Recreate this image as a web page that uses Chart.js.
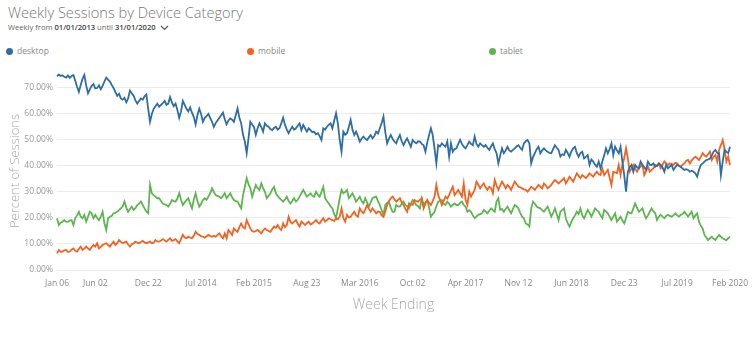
<!DOCTYPE html>
<html>
<head>
<meta charset="utf-8">
<script src="https://cdn.jsdelivr.net/npm/chart.js@4/dist/chart.umd.min.js"></script>
<style>
  html, body { margin: 0; padding: 0; background: #fff; }
  body { width: 756px; height: 339px; position: relative; overflow: hidden; font-family: "Open Sans", "DejaVu Sans", sans-serif; }
  #title { position: absolute; left: 8px; top: 2px; font-size: 14.6px; font-weight: 300; color: #777; white-space: nowrap; }
  #sub { position: absolute; left: 8px; top: 22px; font-size: 7.6px; color: #666; white-space: nowrap; }
  #sub b { font-weight: 600; color: #444; }
  #sub svg { vertical-align: middle; margin-left: 4px; }
  .leg { position: absolute; top: 45px; font-size: 8.5px; color: #888; white-space: nowrap; }
  .leg i { display: inline-block; width: 7px; height: 7px; border-radius: 50%; margin-right: 4px; vertical-align: -0.5px; }
  #wrap { position: absolute; left: 0; top: 60px; width: 756px; height: 260px; }
</style>
</head>
<body>
<div id="title">Weekly Sessions by Device Category</div>
<div id="sub">Weekly from <b>01/01/2013</b> until <b>31/01/2020</b><svg width="9" height="6" viewBox="0 0 9 6"><path d="M1 1 L4.5 4.5 L8 1" fill="none" stroke="#555" stroke-width="1.1"/></svg></div>
<div class="leg" style="left:6px"><i style="background:#2f6ea5"></i>desktop</div>
<div class="leg" style="left:247px"><i style="background:#f26321"></i>mobile</div>
<div class="leg" style="left:489px"><i style="background:#5fb552"></i>tablet</div>
<div id="wrap"><canvas id="c" width="756" height="260"></canvas></div>
<script>
// Week-ending dates: first week ends Sun 06 Jan 2013, last week ends Sun 02 Feb 2020 (370 weeks)
const weekCount = 370;
const weeks = [];
for (let i = 0; i < weekCount; i++) {
  const d = new Date(Date.UTC(2013, 0, 6 + 7 * i));
  weeks.push(d.toISOString().slice(0, 10));
}

const tickIndices = [0, 21, 50, 79, 108, 137, 166, 195, 224, 253, 282, 311, 340, 369];
const tickLabels = ["Jan 06", "Jun 02", "Dec 22", "Jul 2014", "Feb 2015", "Aug 23", "Mar 2016", "Oct 02", "Apr 2017", "Nov 12", "Jun 2018", "Dec 23", "Jul 2019", "Feb 2020"];

const yTicks = [0, 10, 20, 30, 40, 50, 60, 70];

const desktop = [
  74.5, 75.2, 74.6, 74.9, 74.3, 74.0, 74.8, 73.9, 74.6, 75.0,
  72.8, 70.5, 68.5, 71.2, 73.5, 75.0, 71.0, 68.0, 69.5, 70.8,
  71.5, 69.8, 70.0, 71.0, 69.5, 70.8, 72.5, 74.0, 73.2, 72.5,
  71.2, 70.0, 68.5, 67.0, 67.8, 66.0, 65.5, 66.2, 64.5, 66.0,
  69.0, 68.0, 67.0, 65.2, 64.0, 65.0, 66.0, 65.5, 66.8, 67.5,
  62.0, 57.0, 60.0, 62.0, 63.0, 64.0, 62.8, 63.5, 64.2, 65.0,
  63.5, 64.0, 66.5, 64.5, 63.0, 64.0, 61.5, 58.5, 61.0, 65.0,
  63.5, 62.0, 61.0, 62.5, 60.5, 58.8, 56.0, 59.5, 62.0, 60.0,
  57.0, 58.5, 59.2, 60.0, 58.5, 57.0, 55.0, 56.5, 57.5, 58.5,
  59.5, 60.5, 58.0, 56.0, 57.5, 58.3, 57.8, 57.0, 59.5, 62.2,
  58.5, 56.4, 52.0, 49.4, 44.9, 50.6, 57.0, 56.0, 55.0, 52.0,
  54.5, 56.4, 55.0, 53.2, 56.4, 55.5, 55.1, 54.2, 53.8, 54.6,
  55.1, 54.0, 54.5, 56.5, 58.6, 55.8, 54.0, 52.6, 54.0, 55.1,
  54.0, 54.5, 55.5, 56.4, 53.8, 55.8, 54.5, 53.2, 54.5, 53.8,
  53.0, 53.2, 52.2, 52.6, 51.5, 50.0, 54.5, 54.0, 55.1, 55.8,
  56.4, 54.5, 57.5, 60.3, 56.4, 50.0, 45.5, 53.2, 52.0, 52.6,
  55.0, 57.7, 54.0, 51.9, 53.2, 51.5, 49.4, 50.5, 51.3, 50.5,
  50.0, 51.0, 51.9, 50.6, 51.5, 53.2, 52.5, 54.5, 56.5, 59.0,
  53.0, 48.7, 50.5, 51.9, 50.5, 49.4, 48.7, 50.5, 51.9, 49.5,
  48.0, 49.5, 50.6, 49.0, 47.4, 50.0, 49.2, 48.7, 49.5, 49.4,
  48.5, 48.0, 45.5, 49.0, 51.9, 54.5, 51.9, 46.8, 41.0, 48.0,
  47.5, 48.7, 48.0, 47.4, 49.4, 43.6, 48.7, 45.5, 46.5, 46.8,
  48.5, 50.0, 48.5, 47.4, 46.8, 48.0, 49.4, 48.5, 48.0, 51.3,
  48.5, 47.4, 48.7, 48.0, 47.4, 48.0, 47.0, 46.2, 47.5, 48.7,
  46.5, 44.9, 41.0, 44.0, 46.8, 44.9, 46.0, 47.4, 46.0, 45.5,
  46.2, 46.8, 47.5, 48.0, 47.0, 46.2, 48.7, 49.5, 50.0, 48.7,
  41.0, 43.5, 44.9, 46.5, 47.4, 44.9, 46.0, 46.8, 46.0, 45.5,
  45.0, 44.9, 46.5, 48.0, 47.0, 46.2, 43.6, 44.5, 44.2, 46.2,
  45.0, 43.6, 45.5, 46.8, 47.4, 45.0, 43.6, 45.0, 45.5, 42.9,
  43.5, 44.2, 40.4, 42.5, 41.7, 40.5, 39.7, 41.7, 39.1, 41.7,
  44.0, 46.8, 44.9, 46.5, 48.7, 44.2, 47.4, 46.0, 44.9, 47.4,
  41.7, 36.5, 30.1, 37.8, 39.5, 40.4, 37.8, 40.4, 39.5, 39.1,
  41.7, 40.4, 39.5, 38.5, 41.7, 40.5, 40.4, 41.0, 39.7, 40.2,
  41.0, 40.4, 39.5, 37.8, 40.4, 39.1, 39.8, 40.4, 38.5, 39.5,
  40.4, 40.0, 39.7, 39.0, 38.5, 38.8, 38.5, 37.8, 38.2, 37.8,
  37.2, 35.9, 38.5, 40.4, 41.0, 41.7, 42.3, 42.5, 42.9, 44.0,
  45.5, 46.2, 45.0, 44.9, 36.5, 41.7, 46.2, 45.5, 44.9, 47.4
];

const mobile = [
  6.4, 7.7, 7.0, 7.1, 7.6, 7.7, 6.9, 7.1, 7.8, 8.3,
  7.4, 7.1, 8.2, 9.0, 7.7, 8.2, 9.0, 8.3, 7.7, 8.8,
  9.6, 9.0, 10.3, 8.3, 8.9, 9.6, 10.0, 10.3, 9.6, 9.0,
  10.0, 10.9, 9.6, 10.2, 11.5, 10.8, 10.3, 10.6, 10.9, 9.8,
  9.0, 9.8, 10.3, 10.9, 10.5, 10.3, 10.8, 11.2, 10.6, 10.3,
  10.6, 10.9, 10.3, 10.5, 11.5, 11.0, 10.9, 11.3, 11.9, 11.4,
  10.9, 11.6, 12.2, 11.2, 11.5, 11.9, 11.0, 10.3, 12.0, 13.5,
  12.5, 12.2, 12.8, 12.4, 12.2, 13.2, 14.7, 13.8, 13.5, 13.0,
  12.8, 12.4, 13.0, 13.5, 13.0, 12.8, 13.2, 12.8, 13.5, 14.1,
  13.0, 12.2, 14.1, 12.2, 15.4, 14.5, 13.5, 16.0, 15.2, 14.7,
  16.5, 17.9, 16.5, 16.0, 19.2, 17.5, 16.0, 15.0, 14.7, 15.0,
  15.4, 14.8, 14.1, 15.2, 16.0, 15.4, 15.0, 14.7, 15.8, 16.7,
  16.2, 17.3, 16.0, 15.4, 17.9, 16.5, 17.3, 20.5, 18.5, 17.9,
  18.6, 19.2, 17.8, 16.7, 18.6, 18.0, 17.3, 18.0, 18.6, 17.5,
  17.9, 18.5, 19.2, 18.3, 17.9, 19.0, 19.9, 18.6, 19.2, 19.9,
  19.5, 19.2, 18.8, 19.9, 19.5, 20.5, 23.7, 20.0, 18.6, 21.2,
  20.2, 20.5, 21.5, 22.4, 21.0, 20.5, 23.7, 22.5, 21.8, 23.2,
  25.0, 23.5, 22.4, 23.7, 22.8, 21.8, 22.5, 22.4, 21.0, 20.5,
  22.5, 25.0, 26.5, 27.6, 28.2, 27.2, 26.3, 27.0, 27.6, 26.0,
  25.0, 23.5, 22.4, 25.6, 25.2, 25.0, 26.9, 26.5, 26.3, 27.0,
  27.6, 23.7, 25.5, 26.9, 25.8, 25.0, 26.5, 28.2, 32.7, 28.8,
  27.0, 25.0, 26.5, 28.2, 27.5, 28.8, 30.5, 32.0, 28.8, 29.8,
  30.8, 29.5, 28.2, 33.3, 27.0, 25.0, 30.1, 28.2, 29.5, 30.8,
  34.0, 32.8, 31.4, 32.5, 33.3, 31.8, 30.8, 32.0, 31.5, 29.5,
  34.6, 32.5, 30.8, 32.5, 34.0, 32.8, 31.4, 32.7, 32.0, 30.8,
  32.5, 34.0, 33.0, 32.0, 31.8, 31.4, 31.0, 30.8, 30.1, 31.0,
  32.0, 31.5, 30.8, 31.8, 32.7, 32.0, 31.4, 33.3, 32.5, 31.4,
  32.0, 32.7, 33.8, 34.6, 34.0, 33.3, 34.0, 34.6, 35.3, 33.3,
  34.5, 35.9, 35.0, 34.0, 35.5, 37.2, 36.2, 35.3, 36.5, 36.0,
  35.3, 36.2, 37.2, 36.5, 35.9, 37.0, 37.8, 36.8, 36.5, 39.1,
  36.5, 37.5, 38.5, 35.5, 32.7, 37.8, 37.5, 37.2, 40.4, 36.5,
  40.4, 43.0, 46.8, 42.9, 37.8, 39.0, 40.4, 39.0, 37.8, 39.1,
  39.8, 40.4, 36.5, 38.0, 39.7, 37.8, 38.5, 39.1, 40.4, 40.0,
  41.0, 39.1, 40.5, 41.7, 41.0, 40.4, 41.0, 40.8, 40.4, 41.2,
  41.0, 40.2, 39.7, 40.5, 41.0, 42.0, 42.3, 41.0, 42.2, 42.9,
  43.6, 43.0, 42.3, 43.5, 44.9, 44.0, 43.6, 44.5, 45.5, 42.3,
  43.5, 44.2, 41.7, 46.2, 48.0, 50.0, 46.8, 41.7, 43.6, 40.4
];

const tablet = [
  19.9, 17.3, 18.2, 18.6, 19.2, 18.5, 18.6, 19.0, 19.2, 17.3,
  19.9, 21.0, 22.4, 20.5, 19.9, 21.2, 18.6, 20.5, 22.4, 21.8,
  19.9, 21.2, 20.0, 19.2, 20.5, 22.4, 18.0, 15.4, 19.9, 20.5,
  20.8, 21.8, 22.0, 22.4, 23.0, 23.7, 24.5, 26.3, 24.0, 22.4,
  23.5, 24.4, 23.1, 23.8, 25.0, 25.5, 26.3, 25.0, 23.7, 22.5,
  21.8, 32.7, 29.5, 28.8, 28.2, 27.6, 27.6, 26.5, 25.6, 25.2,
  25.0, 24.4, 25.5, 26.9, 26.5, 26.3, 27.5, 29.5, 27.0, 25.0,
  26.0, 26.9, 27.6, 25.5, 23.7, 27.0, 29.5, 26.5, 24.4, 25.5,
  26.9, 27.6, 27.0, 28.2, 29.5, 31.4, 30.0, 28.8, 28.5, 28.2,
  27.6, 28.5, 29.5, 27.6, 28.5, 29.5, 28.0, 26.9, 26.5, 26.3,
  25.0, 23.7, 28.8, 32.0, 35.3, 33.0, 31.4, 28.2, 30.5, 32.7,
  31.5, 30.8, 33.3, 31.5, 30.1, 27.6, 28.5, 29.5, 31.0, 32.0,
  29.5, 28.5, 27.6, 27.0, 26.3, 27.2, 28.2, 26.5, 25.6, 26.5,
  27.6, 26.3, 27.0, 28.2, 29.5, 30.8, 29.5, 28.2, 28.8, 29.5,
  28.5, 28.2, 30.1, 29.0, 28.2, 30.0, 32.0, 27.6, 26.5, 25.6,
  24.5, 23.7, 21.5, 19.9, 23.7, 27.5, 30.8, 29.5, 30.0, 30.8,
  27.6, 28.5, 29.5, 28.0, 26.3, 27.2, 28.2, 26.5, 25.6, 27.6,
  26.0, 24.4, 26.0, 27.6, 28.0, 28.2, 26.5, 25.0, 23.0, 21.2,
  25.0, 25.8, 26.3, 24.0, 22.4, 22.4, 25.0, 24.5, 24.4, 25.5,
  26.3, 25.0, 24.5, 23.7, 25.5, 26.9, 26.0, 25.0, 24.5, 23.7,
  27.6, 25.0, 26.0, 26.9, 24.0, 20.5, 21.5, 22.4, 24.5, 26.3,
  26.5, 26.9, 25.5, 25.0, 26.3, 25.5, 24.4, 25.0, 25.6, 25.0,
  25.0, 25.8, 26.3, 25.0, 24.4, 22.4, 23.0, 22.4, 21.0, 19.9,
  20.5, 21.2, 21.5, 21.8, 23.1, 22.5, 21.8, 22.8, 23.7, 23.0,
  22.4, 26.3, 27.6, 23.1, 23.5, 22.4, 23.5, 24.4, 23.0, 21.8,
  23.5, 25.0, 24.5, 23.7, 22.0, 20.5, 19.9, 17.9, 17.5, 16.7,
  23.7, 26.3, 25.5, 24.4, 24.0, 23.7, 23.0, 22.4, 23.5, 24.4,
  22.5, 20.5, 22.0, 23.7, 21.5, 19.2, 22.4, 23.0, 23.7, 19.9,
  18.0, 16.7, 18.5, 19.9, 21.0, 22.4, 21.5, 23.7, 21.0, 19.9,
  21.5, 23.1, 22.0, 20.5, 22.0, 23.7, 23.0, 22.4, 21.0, 19.9,
  23.1, 22.5, 21.8, 20.5, 19.2, 20.5, 21.8, 18.6, 19.5, 20.5,
  19.0, 17.9, 20.0, 22.4, 22.0, 21.8, 23.7, 25.6, 24.0, 22.4,
  23.0, 23.7, 21.5, 19.9, 21.0, 22.4, 23.7, 22.5, 21.8, 19.2,
  20.5, 21.2, 20.5, 19.9, 20.8, 21.2, 20.8, 20.5, 21.0, 21.8,
  21.0, 20.5, 21.2, 21.5, 22.4, 21.5, 20.5, 21.5, 22.4, 19.9,
  21.0, 21.8, 18.6, 17.0, 16.0, 13.5, 12.5, 11.5, 12.2, 12.8,
  12.0, 11.5, 12.5, 13.5, 12.8, 12.2, 11.8, 11.5, 12.2, 12.8
];

const seriesNames = ["desktop", "mobile", "tablet"];
const seriesColors = ["#2f6ea5", "#f26321", "#5fb552"];

const tickFont = { family: "'Open Sans', sans-serif", size: 8.5 };

new Chart(document.getElementById('c'), {
  type: 'line',
  data: {
    labels: weeks,
    datasets: [desktop, mobile, tablet].map((arr, k) => ({
      label: seriesNames[k],
      data: arr,
      borderColor: seriesColors[k],
      backgroundColor: seriesColors[k],
      borderWidth: 1.8,
      pointRadius: 0,
      tension: 0,
      fill: false
    }))
  },
  options: {
    responsive: false,
    animation: false,
    events: [],
    layout: { padding: { top: 12, right: 23, left: 0, bottom: 0 } },
    plugins: { legend: { display: false }, tooltip: { enabled: false }, title: { display: false } },
    scales: {
      x: {
        type: 'category',
        offset: false,
        grid: { display: false, drawTicks: false },
        border: { display: false },
        afterBuildTicks: (scale) => { scale.ticks = tickIndices.map(v => ({ value: v })); },
        afterFit: (scale) => { scale.height = 50; },
        ticks: {
          autoSkip: false, maxRotation: 0, minRotation: 0, padding: 8,
          color: '#888', font: tickFont,
          callback: (value) => tickLabels[tickIndices.indexOf(value)]
        },
        title: {
          display: true, text: 'Week Ending', color: '#a8a8a8',
          font: { family: "'Open Sans', sans-serif", size: 14, weight: 300 },
          padding: { top: 0, bottom: 7 }
        }
      },
      y: {
        min: 0, max: 76.15,
        grid: { color: '#ececec', lineWidth: 1, drawTicks: false },
        border: { display: false },
        afterBuildTicks: (scale) => { scale.ticks = yTicks.map(v => ({ value: v })); },
        afterFit: (scale) => { scale.width = 57; },
        ticks: {
          padding: 4, color: '#999', font: tickFont,
          callback: (v) => v.toFixed(2) + '%'
        },
        title: {
          display: true, text: 'Percent of Sessions', color: '#a8a8a8',
          font: { family: "'Open Sans', sans-serif", size: 13, weight: 300 },
          padding: { top: 7, bottom: 0 }
        }
      }
    }
  }
});
</script>
</body>
</html>
